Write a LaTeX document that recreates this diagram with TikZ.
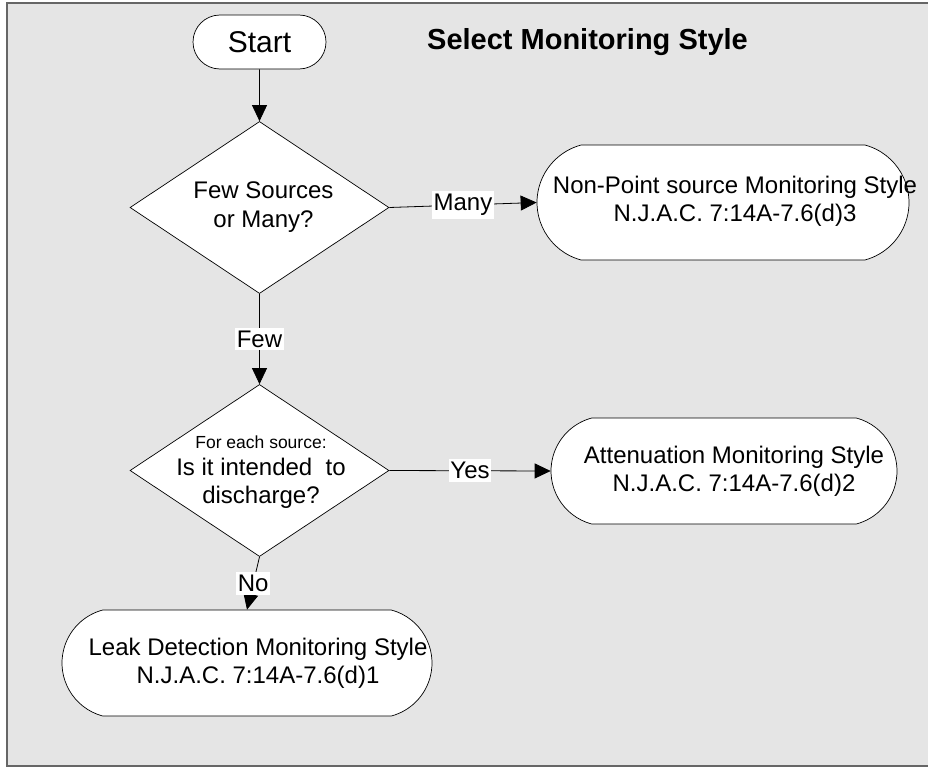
\documentclass[tikz,border=0pt]{standalone}
\usepackage{fontspec}
\setmainfont{Liberation Sans}
\usepackage{xcolor}
\usetikzlibrary{arrows.meta,shapes.geometric,shapes.misc}
\definecolor{panelgray}{RGB}{229,229,229}
\tikzset{
  decision/.style={diamond, draw=black, fill=white, line width=0.7pt,
    minimum width=259pt, minimum height=172pt, inner sep=0pt},
  terminal/.style={rounded rectangle, rounded rectangle arc length=150,
    draw=black, fill=white, line width=0.7pt, inner sep=0pt},
  flowtext/.style={align=center, font=\fontsize{24}{28}\selectfont},
  edgelabel/.style={fill=white, inner xsep=1.5pt, inner ysep=3pt,
    font=\fontsize{24}{28}\selectfont},
  flow/.style={line width=0.8pt, -{Triangle[length=16pt,width=15pt]}}
}

\begin{document}
\begin{tikzpicture}[x=1pt, y=-1pt]
    \useasboundingbox (0,0) rectangle (928,768);

    % Panel
    \fill[panelgray] (7,3) rectangle (940,766);
    \draw[black!60, line width=1.5pt] (940,3) -- (7,3) -- (7,766) -- (940,766);

    % Nodes
    \node[terminal, rounded rectangle arc length=180, minimum width=133pt,
      minimum height=54pt, font=\fontsize{30}{34}\selectfont] (start) at (259.5,42) {Start};
    \node[font=\bfseries\fontsize{29}{34}\selectfont, anchor=base] (title) at (587.5,50) {Select Monitoring Style};

    \node[decision] (few) at (259.5,207.5) {};
    \node[align=center, font=\fontsize{24}{29}\selectfont] (fewtext) at ([xshift=4pt]few.center) {Few Sources\\or Many?};

    \node[terminal, minimum width=372pt, minimum height=115pt] (nonpoint) at (723,202.5) {};
    \node[flowtext] (nonpointtext) at ([xshift=12pt,yshift=1pt]nonpoint.center) {Non-Point source Monitoring Style\\N.J.A.C. 7:14A-7.6(d)3};

    \node[decision] (intend) at (259.5,470.5) {};
    \node[align=center, font=\fontsize{24}{27.5}\selectfont] (intendtext) at (261,472)
      {{\fontsize{17.5}{20}\selectfont For each source:}\\Is it intended\ \ to\\discharge?};

    \node[terminal, minimum width=346pt, minimum height=106pt] (atten) at (724,471) {};
    \node[flowtext] (attentext) at ([xshift=10pt]atten.center) {Attenuation Monitoring Style\\N.J.A.C. 7:14A-7.6(d)2};

    \node[terminal, minimum width=370pt, minimum height=106pt] (leak) at (247,663) {};
    \node[flowtext] (leaktext) at ([xshift=11pt]leak.center) {Leak Detection Monitoring Style\\N.J.A.C. 7:14A-7.6(d)1};

    % Connectors
    \draw[flow] (start) -- (few);
    \draw[flow] (few.east) -- node[edgelabel] (many) {Many} (nonpoint.west);
    \draw[flow] (few.south) -- node[edgelabel] (fewlbl) {Few} (intend.north);
    \draw[flow] (intend.east) -- node[edgelabel] (yes) {Yes} (atten.west);
    \draw[flow] (intend.south) -- node[edgelabel] (no) {No} (leak.north);
\end{tikzpicture}
\end{document}
